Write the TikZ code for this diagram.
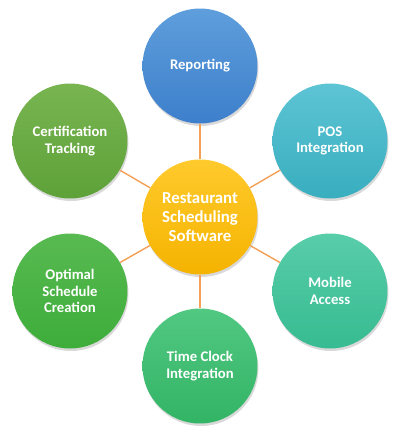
\documentclass[tikz,border=0pt]{standalone}
\usepackage{xcolor}
\usepackage{fontspec}
\setmainfont{Carlito}
\usepackage{tikz}
\usetikzlibrary{shadows, positioning}

\definecolor{linkorange}{HTML}{F4A056}
\definecolor{hubtop}{HTML}{FFCA2C}
\definecolor{hubbot}{HTML}{F5B300}

\tikzset{
  bubble/.style={circle, minimum size=115pt, inner sep=0pt, align=center,
    text=white, font=\bfseries\fontsize{14.7}{16.5}\selectfont,
    drop shadow={opacity=0.3, shadow xshift=1pt, shadow yshift=-2.5pt}},
  hubtext/.style={font=\bfseries\fontsize{16.8}{19}\selectfont},
  link/.style={draw=linkorange, line width=1.4pt}
}

\begin{document}
\begin{tikzpicture}[x=1pt, y=-1pt]
  \useasboundingbox (0,0) rectangle (400,437);

  % Outer circles
  \foreach \name/\px/\py/\ctop/\cbot/\label in {
      report/200/66/5E9EDC/3D7FCB/{Reporting},
      pos/330/141/5DC4D4/38AEBE/{POS\\Integration},
      mobile/330/291/58CDA9/37BB91/{Mobile\\Access},
      timeclk/200/366/52C882/32B465/{Time Clock\\Integration},
      optimal/70/291/58BA51/3DAD3A/{Optimal\\Schedule\\Creation},
      cert/70/141/78B551/5EA139/{Certification\\Tracking}} {
    \definecolor{ct}{HTML}{\ctop}
    \definecolor{cb}{HTML}{\cbot}
    \node[bubble, top color=ct, bottom color=cb] (\name) at (\px,\py) {\label};
  }

  % Hub
  \node[bubble, hubtext, top color=hubtop, bottom color=hubbot] (hub) at (200,217)
    {Restaurant\\Scheduling\\Software};

  % Links
  \foreach \name in {report, pos, mobile, timeclk, optimal, cert}
    \draw[link] (hub) -- (\name);
\end{tikzpicture}
\end{document}
